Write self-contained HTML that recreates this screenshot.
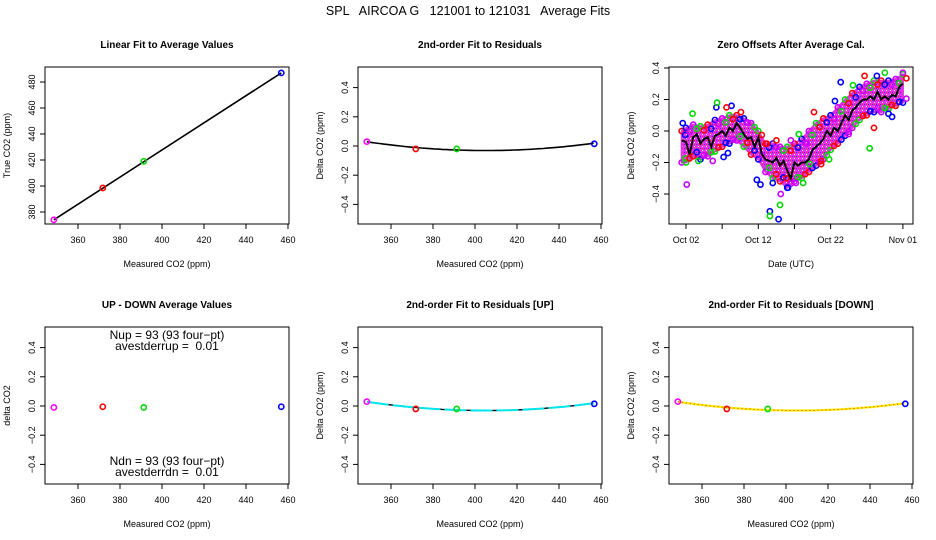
<!DOCTYPE html>
<html><head><meta charset="utf-8"><style>
body{margin:0;background:#fff;}
svg{display:block;font-family:"Liberation Sans",sans-serif;}
</style></head><body>
<svg id="fig" width="936" height="540" viewBox="0 0 936 540">
<defs>
<pattern id="hatch" width="4" height="4" patternUnits="userSpaceOnUse">
<rect width="4" height="4" fill="#e830e8"/>
<rect x="0" y="0" width="1" height="1" fill="#3030ff"/>
<rect x="2" y="2" width="1" height="1" fill="#ffffff"/>
<rect x="2" y="0" width="1" height="1" fill="#ff2020"/>
</pattern>
</defs>
<text x="468" y="15" text-anchor="middle" font-size="12.5" style="white-space:pre" xml:space="preserve">SPL   AIRCOA G   121001 to 121031   Average Fits</text>
</svg>
<script>
// ---- data ----
const measured = [348.5, 371.8, 391.3, 456.8];
const trueVals = [374, 398.5, 419, 487];
const residuals = [0.03, -0.02, -0.02, 0.015];
const residualsUp = [0.03, -0.02, -0.02, 0.015];
const residualsDn = [0.03, -0.02, -0.02, 0.015];
const upDown = [-0.01, -0.005, -0.01, -0.005];
const pointColors = ["#ff00ff", "#ff0000", "#00dd00", "#0000ff"];
const quadFit = [1.88e-5, -0.031, 405]; // a, min, center
const co2Ticks = [360, 380, 400, 420, 440, 460];
const trueTicks = [380, 400, 420, 440, 460, 480];
const deltaTicks = [-0.4, -0.2, 0.0, 0.2, 0.4];
const dateTickDays = [1, 6, 11, 16, 21, 26, 31];
const dateTickLabels = ["Oct 02", "", "Oct 12", "", "Oct 22", "", "Nov 01"];
const meanDays = [0.4,1,1.5,2,2.5,3,3.5,4,4.5,5,5.5,6,6.5,7,7.5,8,8.5,9,9.5,10,10.5,11,11.5,12,12.5,13,13.5,14,14.5,15,15.5,16,16.5,17,17.5,18,18.5,19,19.5,20,20.5,21,21.5,22,22.5,23,23.5,24,24.5,25,25.5,26,26.5,27,27.5,28,28.5,29,29.5,30,30.5,31];
const meanOffsets = [-0.06,-0.07,-0.15,-0.04,-0.02,-0.08,-0.05,-0.04,-0.1,-0.03,-0.02,0.0,-0.03,0.02,0.0,0.05,0.02,-0.02,-0.05,-0.04,-0.1,-0.04,-0.15,-0.18,-0.19,-0.2,-0.17,-0.22,-0.19,-0.25,-0.3,-0.2,-0.22,-0.2,-0.2,-0.18,-0.12,-0.1,-0.08,-0.05,0.0,-0.03,0.02,0.0,0.05,0.1,0.07,0.13,0.15,0.18,0.2,0.2,0.22,0.2,0.25,0.2,0.22,0.2,0.23,0.22,0.28,0.3];
const bandDays = [0.4,1,2,3,4,5,6,7,8,9,10,11,12,13,14,15,16,17,18,19,20,21,22,23,24,25,26,27,28,29,30,31];
const bandUpper = [0.0,0.02,0.04,0.03,0.04,0.07,0.08,0.1,0.1,0.08,0.05,0.0,-0.08,-0.08,-0.1,-0.1,-0.08,-0.05,0.0,0.05,0.08,0.1,0.15,0.2,0.24,0.28,0.3,0.32,0.32,0.32,0.33,0.36];
const bandLower = [-0.2,-0.2,-0.16,-0.18,-0.16,-0.13,-0.1,-0.08,-0.06,-0.1,-0.15,-0.18,-0.26,-0.3,-0.32,-0.36,-0.32,-0.3,-0.26,-0.22,-0.18,-0.12,-0.08,-0.03,0.02,0.07,0.1,0.12,0.12,0.14,0.16,0.18];
const edgeColors = ["#ff0000", "#0000ff", "#cc00ff", "#00dd00"];
const blueDays = [0.55,5.2,7.3,6.2,6.8,10.8,11.3,12.6,13.8,13,15.1,21.6,22.4,27.4,29,29.5];
const blueVals = [0.05,0.15,0.16,-0.165,-0.14,-0.31,-0.34,-0.51,-0.56,-0.33,-0.36,0.19,0.31,0.35,0.11,0.09];
const redDays = [6.6,8.6,13.5,12.2,14.9,18.7,19.7,19.7,25.7,27];
const redVals = [0.15,0.12,-0.06,-0.08,-0.30,0.12,-0.19,-0.21,0.35,0.02];
const greenDays = [1.9,5.3,2.7,14,12.6,24.1,28.5,26.4,20.8,17.2,16.6,18.1];
const greenVals = [0.11,0.18,-0.19,-0.47,-0.54,0.29,0.37,-0.11,-0.18,-0.33,-0.02,-0.21];
const magentaDays = [1.1,4.7,14.1,15.5,31,16.2,23.5,17.7];
const magentaVals = [-0.34,-0.19,-0.4,-0.06,0.37,-0.33,-0.02,-0.08];

// ---- layout ----
const NS = "http://www.w3.org/2000/svg";
const svg = document.getElementById("fig");
const colX = [45, 358, 669], rowY = [67, 327], W = 244, H = 157;
function mk(tag, attrs, parent, text) {
  const e = document.createElementNS(NS, tag);
  for (const k in attrs) e.setAttribute(k, attrs[k]);
  if (text !== undefined) e.textContent = text;
  (parent || svg).appendChild(e);
  return e;
}
function co2X(x0, v) { return x0 + 33 + (v - 360) * 2.1; }
function deltaY(y0, v) { return y0 + 79 - v * 146; }
function trueY(y0, v) { return y0 + 15 + (480 - v) * 1.3; }
function offY(y0, v) { return y0 + 64 - v * 157.5; }
function dayX(x0, d) { return x0 + 17 + (d - 1) * 7.23; }

function panel(name, x0, y0, title, xTitle, yTitle) {
  const g = mk("g", {});
  
  
  const t = mk("text", {x: x0 + W / 2, y: y0 - 19, "text-anchor": "middle", "font-size": "10", "font-weight": "bold"}, g, title);
  
  
  const b = mk("rect", {x: x0, y: y0, width: W, height: H, fill: "none", stroke: "#000", "stroke-width": "1"}, g);
  
  
  const xt = mk("text", {x: x0 + W / 2, y: y0 + H + 43, "text-anchor": "middle", "font-size": "9"}, g, xTitle);
  
  
  const yt = mk("text", {x: 0, y: 0, "text-anchor": "middle", "font-size": "9", transform: `translate(${x0 - 35},${y0 + H / 2}) rotate(-90)`}, g, yTitle);
  
  
  return g;
}
function xTicks(g, x0, y0, vals, labels, fx) {
  const ax = mk("g", {}, g);
  
  
  vals.forEach((v, i) => {
    const x = fx(x0, v);
    mk("line", {x1: x, x2: x, y1: y0 + H, y2: y0 + H + 5, stroke: "#000"}, ax);
    if (labels[i] !== "") {
      const t = mk("text", {x: x, y: y0 + H + 19, "text-anchor": "middle", "font-size": "9"}, ax, labels[i]);
      
      
    }
  });
}
function yTicks(g, x0, y0, vals, labels, fy) {
  const ax = mk("g", {}, g);
  
  
  vals.forEach((v, i) => {
    const y = fy(y0, v);
    mk("line", {x1: x0 - 5, x2: x0, y1: y, y2: y, stroke: "#000"}, ax);
    const t = mk("text", {x: 0, y: 0, "text-anchor": "middle", "font-size": "9", transform: `translate(${x0 - 10},${y}) rotate(-90)`}, ax, labels[i]);
    
    
  });
}
function circle(g, x, y, color, name) {
  const c = mk("circle", {cx: x, cy: y, r: 2.6, fill: "none", stroke: color, "stroke-width": "1.6"}, g);
  
  
}
const co2Labels = co2Ticks.map(String);
const deltaLabels = deltaTicks.map(v => v.toFixed(1).replace("-", "\u2212"));

// Panel 1: linear fit
{
  const x0 = colX[0], y0 = rowY[0];
  const g = panel("linear-fit-panel", x0, y0, "Linear Fit to Average Values", "Measured CO2 (ppm)", "True CO2 (ppm)");
  xTicks(g, x0, y0, co2Ticks, co2Labels, co2X);
  yTicks(g, x0, y0, trueTicks, trueTicks.map(String), trueY);
  const slope = (trueVals[3] - trueVals[0]) / (measured[3] - measured[0]);
  const l = mk("line", {x1: co2X(x0, measured[0]), y1: trueY(y0, trueVals[0]), x2: co2X(x0, measured[3]), y2: trueY(y0, trueVals[0] + slope * (measured[3] - measured[0])), stroke: "#000", "stroke-width": "1.6"}, g);
  
  
  measured.forEach((m, i) => circle(g, co2X(x0, m), trueY(y0, trueVals[i]), pointColors[i], "average-point"));
}
function quadPath(x0, y0) {
  let d = "";
  for (let v = measured[0]; v <= measured[3] + 0.01; v += 2) {
    const r = quadFit[0] * (v - quadFit[2]) ** 2 + quadFit[1];
    d += (d ? "L" : "M") + co2X(x0, v).toFixed(1) + "," + deltaY(y0, r).toFixed(1);
  }
  return d;
}
function residPanel(name, col, row, title, vals, kind) {
  const x0 = colX[col], y0 = rowY[row];
  const g = panel(name, x0, y0, title, "Measured CO2 (ppm)", "Delta CO2 (ppm)");
  xTicks(g, x0, y0, co2Ticks, co2Labels, co2X);
  yTicks(g, x0, y0, deltaTicks, deltaLabels, deltaY);
  const d = quadPath(x0, y0);
  if (kind === "black") {
    const p = mk("path", {d: d, fill: "none", stroke: "#000", "stroke-width": "1.6"}, g);
    
    
  } else if (kind === "cyan") {
    const p0 = mk("path", {d: d, fill: "none", stroke: "#000", "stroke-width": "1.4"}, g);
    
    
    const p = mk("path", {d: d, fill: "none", stroke: "#00e5ee", "stroke-width": "2", "stroke-dasharray": "22 4"}, g);
    
    
  } else {
    const p = mk("path", {d: d, fill: "none", stroke: "#ffee00", "stroke-width": "2.2"}, g);
    
    
    const p2 = mk("path", {d: d, fill: "none", stroke: "#ff2000", "stroke-width": "1", "stroke-dasharray": "1 3"}, g);
    
    
  }
  measured.forEach((m, i) => circle(g, co2X(x0, m), deltaY(y0, vals[i]), pointColors[i], "residual-point"));
}
residPanel("residual-fit-panel", 1, 0, "2nd-order Fit to Residuals", residuals, "black");
residPanel("residual-fit-up-panel", 1, 1, "2nd-order Fit to Residuals [UP]", residualsUp, "cyan");
residPanel("residual-fit-down-panel", 2, 1, "2nd-order Fit to Residuals [DOWN]", residualsDn, "yellow");

// Panel 4: up - down
{
  const x0 = colX[0], y0 = rowY[1];
  const g = panel("up-down-panel", x0, y0, "UP - DOWN Average Values", "Measured CO2 (ppm)", "delta CO2");
  xTicks(g, x0, y0, co2Ticks, co2Labels, co2X);
  yTicks(g, x0, y0, deltaTicks, deltaLabels, deltaY);
  measured.forEach((m, i) => circle(g, co2X(x0, m), deltaY(y0, upDown[i]), pointColors[i], "up-down-point"));
  const lines = [["Nup = 93 (93 four\u2212pt)", 12], ["avestderrup =  0.01", 23], ["Ndn = 93 (93 four\u2212pt)", 138], ["avestderrdn =  0.01", 149]];
  lines.forEach(([s, dy]) => {
    const t = mk("text", {x: x0 + 122, y: y0 + dy, "text-anchor": "middle", "font-size": "12", "xml:space": "preserve", style: "white-space:pre"}, g, s);
    
    
  });
}

// Panel 3: zero offsets
{
  const x0 = colX[2], y0 = rowY[0];
  const g = panel("zero-offsets-panel", x0, y0, "Zero Offsets After Average Cal.", "Date (UTC)", "Delta CO2 (ppm)");
  xTicks(g, x0, y0, dateTickDays, dateTickLabels, dayX);
  yTicks(g, x0, y0, deltaTicks, deltaLabels, offY);
  let bp = "";
  bandDays.forEach((d, i) => { bp += (i ? "L" : "M") + dayX(x0, d).toFixed(1) + "," + offY(y0, bandUpper[i]).toFixed(1); });
  for (let i = bandDays.length - 1; i >= 0; i--) bp += "L" + dayX(x0, bandDays[i]).toFixed(1) + "," + offY(y0, bandLower[i]).toFixed(1);
  const band = mk("path", {d: bp + "Z", fill: "url(#hatch)", stroke: "#e030e0", "stroke-width": "2", "stroke-linejoin": "round"}, g);
  
  
  // rough edges of the dense cloud
  bandDays.forEach((d, i) => {
    circle(g, dayX(x0, d), offY(y0, bandUpper[i]), edgeColors[i % 4], "offset-point");
    circle(g, dayX(x0, d) + 3.5, offY(y0, bandUpper[i]) + 4, edgeColors[(i + 1) % 4], "offset-point");
    circle(g, dayX(x0, d), offY(y0, bandLower[i]), edgeColors[(i + 2) % 4], "offset-point");
    circle(g, dayX(x0, d) + 3.5, offY(y0, bandLower[i]) - 4, edgeColors[(i + 3) % 4], "offset-point");
  });
  [[blueDays, blueVals, "#0000ff"], [redDays, redVals, "#ff0000"], [greenDays, greenVals, "#00dd00"], [magentaDays, magentaVals, "#cc00ff"]].forEach(([ds, vs, c]) => {
    ds.forEach((d, i) => circle(g, dayX(x0, d), offY(y0, vs[i]), c, "offset-point"));
  });
  let mp = "";
  meanDays.forEach((d, i) => { mp += (i ? "L" : "M") + dayX(x0, d).toFixed(1) + "," + offY(y0, meanOffsets[i]).toFixed(1); });
  const ml = mk("path", {d: mp, fill: "none", stroke: "#000", "stroke-width": "2"}, g);
  
  
}
</script>
</body></html>
